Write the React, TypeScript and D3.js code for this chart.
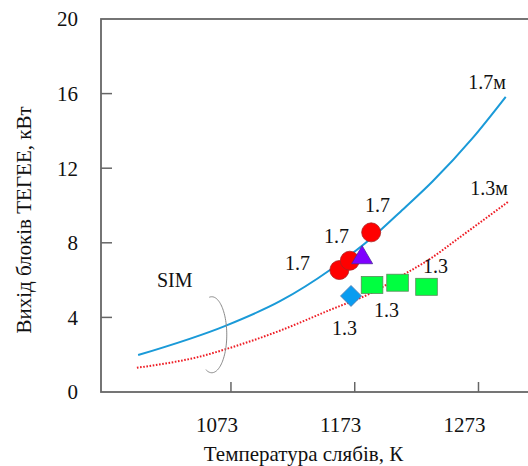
import React from 'react';
import * as d3 from 'd3';

// axis ticks
const tempTicks = [1073, 1173, 1273];
const powerTicks = [4, 8, 12, 16];
const powerLabels = [0, 4, 8, 12, 16, 20];

// model curves (slab length 1.7 m and 1.3 m)
const curve17T = [998, 1069, 1113, 1153, 1194, 1210, 1236, 1268, 1295];
const curve17V = [1.98, 3.56, 4.88, 6.54, 8.69, 9.67, 11.3, 13.6, 15.83];
const curve13T = [997, 1022, 1045, 1069, 1113, 1153, 1186, 1214, 1233, 1258, 1297];
const curve13V = [1.3, 1.55, 1.85, 2.3, 3.3, 4.4, 5.3, 6.35, 7.1, 8.3, 10.2];

// measured points
const circlesT = [1160.6, 1169, 1186.3];
const circlesV = [6.54, 7.04, 8.56];
const triangleT = [1179];
const triangleV = [7.2];
const diamondT = [1170];
const diamondV = [5.15];
const squaresT = [1187, 1207.6, 1231];
const squaresV = [5.74, 5.86, 5.64];

// annotations
const noteText = ['1.7', '1.7', '1.7', '1.3', '1.3', '1.3'];
const noteT = [1126.8, 1158.3, 1191.4, 1238.3, 1198.7, 1164.7];
const noteV = [6.54, 7.99, 9.65, 6.38, 4.02, 3.06];

const W = 528;
const H = 466;
const left = 101;
const top = 19;
const bottom = 392;

const x = d3.scaleLinear().domain([968, 1313]).range([left, W]);
const y = d3.scaleLinear().domain([0, 20]).range([bottom, top]);

const serif = { fontFamily: "'Liberation Serif'" };

export default function App() {
  const zip = (t, v) => t.map((d, i) => [d, v[i]]);
  const line = d3.line().x(d => x(d[0])).y(d => y(d[1])).curve(d3.curveMonotoneX);

  // SIM bracket: part of an ellipse round both curves
  const cx = x(1057.5), cy = y(3.07), rx = 15, ry = 38;
  const arcPts = d3.range(-100, 116, 3).map(a => {
    const r = (a * Math.PI) / 180;
    return [cx + rx * Math.cos(r), cy + ry * Math.sin(r)];
  });
  const arc = d3.line().curve(d3.curveCatmullRom)(arcPts);

  const tri = (px, py) => {
    const s = 10.5;
    return `M${px},${py - 12}L${px + s},${py + 6}L${px - s},${py + 6}Z`;
  };

  return (
    <svg width={W} height={H} style={{ position: 'absolute', left: 0, top: 0, background: '#fff' }}>
      {/* frame */}
      <rect x={left} y={top} width={W + 20 - left} height={bottom - top} fill="none"
        stroke="#666" strokeWidth={1.8} />
      {powerTicks.map(d => (
        <line key={d} x1={left} x2={left + 11} y1={y(d)} y2={y(d)} stroke="#666" strokeWidth={1.5} />
      ))}
      {tempTicks.map(d => (
        <line key={d} x1={x(d)} x2={x(d)} y1={bottom} y2={bottom - 10} stroke="#666" strokeWidth={1.5} />
      ))}
      {powerLabels.map(d => (
        <text key={d} x={78} y={y(d)} dy="0.35em" textAnchor="end" fontSize={21} fill="#111" style={serif}>{d}</text>
      ))}
      {tempTicks.map(d => (
        <text key={d} x={x(d) - 14} y={432} textAnchor="middle" fontSize={21} fill="#111" style={serif}>{d}</text>
      ))}
      <text x={303.5} y={461} textAnchor="middle" fontSize={21} fill="#111" style={serif}>Температура слябів, К</text>
      <text transform="translate(31,220) rotate(-90)" textAnchor="middle" fontSize={21} fill="#111" style={serif}>
        Вихід блоків ТЕГЕЕ, кВт
      </text>

      {/* curves */}
      <path d={line(zip(curve17T, curve17V))} fill="none" stroke="#1a9ad8" strokeWidth={2} />
      <path d={line(zip(curve13T, curve13V))} fill="none" stroke="#ee1c24" strokeWidth={2}
        strokeDasharray="1.6 1.6" />
      <path d={arc} fill="none" stroke="#8a8a8a" strokeWidth={1} />

      {/* markers */}
      {squaresT.map((d, i) => (
        <rect key={i} x={x(d) - 10.8} y={y(squaresV[i]) - 8.5} width={21.6} height={17}
          fill="#00ff40" stroke="#5a8a5a" strokeWidth={0.8} />
      ))}
      {diamondT.map((d, i) => {
        const px = x(d), py = y(diamondV[i]), s = 10.5;
        return <path key={i} d={`M${px},${py - s}L${px + s},${py}L${px},${py + s}L${px - s},${py}Z`}
          fill="#0a9cf0" stroke="#5577aa" strokeWidth={0.8} />;
      })}
      {circlesT.map((d, i) => (
        <circle key={i} cx={x(d)} cy={y(circlesV[i])} r={9.5} fill="#ff0000" stroke="#aa2222"
          strokeWidth={0.8} />
      ))}
      {triangleT.map((d, i) => (
        <path key={i} d={tri(x(d), y(triangleV[i]))} fill="#7f00ff" stroke="#4a2a99" strokeWidth={0.8} />
      ))}

      {/* annotations */}
      {noteText.map((t, i) => (
        <text key={i} x={x(noteT[i])} y={y(noteV[i])} textAnchor="middle" fontSize={20} fill="#111" style={serif}>{t}</text>
      ))}
      <text x={x(1295.2)} y={y(16.25)} textAnchor="end" fontSize={20} fill="#111" style={serif}>1.7м</text>
      <text x={x(1296.8)} y={y(10.56)} textAnchor="end" fontSize={20} fill="#111" style={serif}>1.3м</text>
      <text x={x(1013.2)} y={y(5.63)} fontSize={20} fill="#111" style={serif}>SIM</text>
    </svg>
  );
}
